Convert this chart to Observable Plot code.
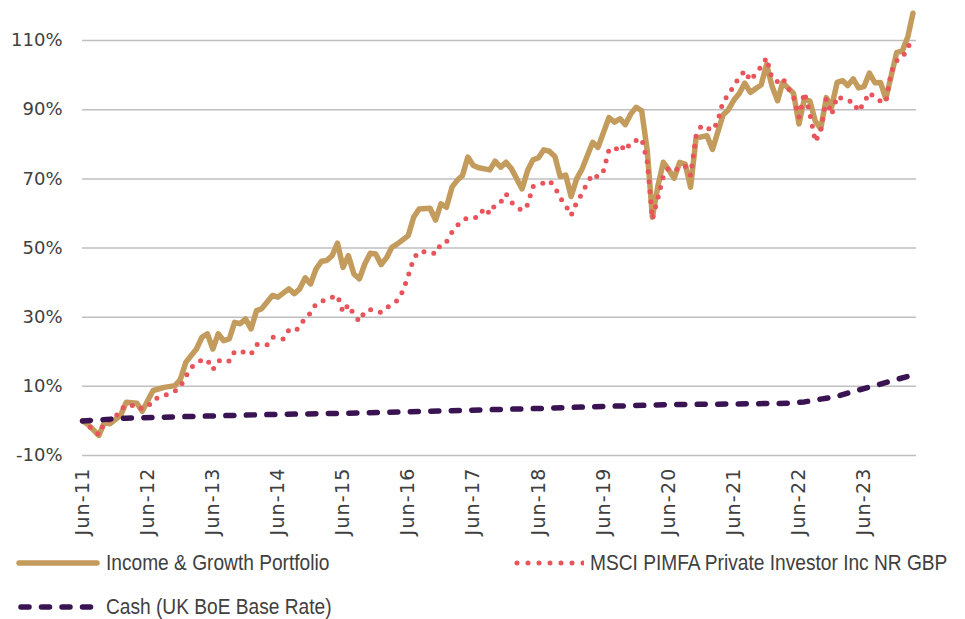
<!DOCTYPE html>
<html><head><meta charset="utf-8">
<script src="https://cdn.jsdelivr.net/npm/d3@7"></script>
<script src="https://cdn.jsdelivr.net/npm/@observablehq/plot@0.6"></script>
<style>
body{margin:0;background:#fff;}
#wrap{position:relative;width:965px;height:619px;overflow:hidden;background:#fff;}
.leg{position:absolute;display:flex;align-items:center;height:26px;font-family:"Liberation Sans",Arial,sans-serif;font-size:22px;color:#404040;white-space:nowrap;}
.leg svg{display:block;margin-right:6px;}
.leg span{display:inline-block;transform:scaleX(0.87);transform-origin:0 50%;}
</style></head><body><div id="wrap"></div>
<script>
// Month offsets counted from Jun-2011 (0 = Jun-11)
const seriesNames = ["Income & Growth Portfolio", "MSCI PIMFA Private Investor Inc NR GBP", "Cash (UK BoE Base Rate)"];
const seriesColors = ["#C39B5C", "#E8545A", "#3A1352"];

const portfolio = [[0,0],[1,-1.0],[3,-4.2],[4,-0.5],[5,-0.8],[7,1.6],[8,5.4],[10,5.1],[11,2.8],[12,5.9],[13,8.8],[15,9.7],[17,10.2],[18,12.0],[19,17.0],[21,20.8],[22,24.2],[23,25.2],[24,20.8],[25,25.2],[26,23.2],[27,23.7],[28,28.5],[29,28.1],[30,29.5],[31,26.6],[32,31.9],[33,32.4],[35,36.3],[36,35.8],[38,38.2],[39,36.8],[40,38.2],[41,41.4],[42,39.6],[43,44.0],[44,46.2],[45,46.4],[46,47.8],[47,51.4],[48,44.4],[49,47.8],[50,42.5],[51,41.1],[52,45.4],[53,48.5],[54,48.3],[55,45.2],[56,47.3],[57,50.2],[58,51.2],[60,53.6],[61,58.9],[62,61.3],[64,61.5],[65,58.1],[66,62.8],[67,61.8],[68,67.6],[69,69.5],[70,71.0],[71,76.3],[72,73.9],[73,73.2],[75,72.6],[76,75.1],[77,73.4],[78,74.8],[79,72.9],[81,67.1],[82,72.4],[83,75.5],[84,76.1],[85,78.4],[86,78.0],[87,76.5],[88,70.7],[89,71.1],[90,64.9],[91,70.0],[92,72.9],[94,80.6],[95,79.1],[97,87.7],[98,86.4],[99,87.4],[100,85.7],[101,88.8],[102,90.7],[103,89.7],[104,78.2],[105,58.9],[106,68.0],[107,74.8],[108,72.6],[109,70.2],[110,74.8],[111,74.3],[112,67.6],[113,81.8],[115,82.5],[116,78.5],[118,88.5],[119,90.0],[120,92.8],[121,94.7],[122,97.7],[123,95.0],[125,97.2],[126,103.1],[127,96.8],[128,92.6],[129,97.8],[131,94.8],[132,85.9],[133,93.1],[134,92.5],[135,86.6],[136,84.5],[137,93.5],[138,90.8],[139,97.9],[140,98.4],[141,97.0],[142,98.9],[143,96.3],[144,96.7],[145,100.6],[146,97.8],[147,97.9],[148,93.2],[149,100.0],[150,106.6],[151,106.9],[152,111.0],[153,117.9]];

const msci = [[0,0],[1,-1.3],[3,-4.0],[4,-0.4],[6,0.9],[7,3.5],[9,4.7],[10,3.5],[12,4.0],[13,6.2],[15,7.3],[17,8.6],[18,9.9],[19,12.9],[20,15.5],[22,17.7],[23,17.7],[24,14.8],[25,17.3],[26,17.8],[27,17.3],[28,20.1],[29,20.2],[31,19.3],[32,22.1],[34,22.0],[35,24.2],[37,23.7],[38,26.3],[39,25.9],[40,27.1],[41,30.0],[42,31.1],[43,33.9],[45,35.2],[47,36.3],[48,31.4],[49,33.6],[50,30.7],[51,28.8],[52,31.7],[53,32.2],[55,31.4],[57,33.9],[58,34.8],[59,37.5],[60,42.0],[61,47.0],[62,49.0],[64,48.8],[65,48.3],[66,51.2],[67,51.7],[68,54.6],[69,56.4],[70,58.0],[71,58.7],[73,58.9],[74,61.6],[75,59.9],[76,62.6],[77,63.2],[78,65.7],[79,63.2],[81,60.8],[82,62.5],[83,67.8],[85,68.8],[86,69.5],[87,67.6],[88,64.5],[89,62.3],[90,59.4],[91,63.2],[92,65.8],[93,68.7],[94,71.4],[95,70.5],[96,72.4],[97,78.3],[98,78.0],[99,80.0],[100,78.1],[101,80.6],[103,81.7],[104,75.0],[105,58.4],[106,64.5],[107,70.7],[108,73.3],[110,72.6],[111,73.7],[112,71.0],[113,82.5],[114,85.4],[116,84.0],[117,86.4],[118,92.4],[119,94.3],[120,97.0],[121,99.4],[122,101.3],[123,98.4],[124,100.4],[125,102.5],[126,105.0],[127,98.9],[128,98.1],[129,99.2],[130,96.3],[131,93.8],[132,87.8],[133,95.0],[134,88.9],[135,80.7],[136,84.0],[137,93.1],[138,88.6],[139,93.9],[141,92.5],[142,92.4],[143,89.5],[144,92.1],[145,95.0],[146,93.4],[147,92.5],[148,92.1],[149,101.0],[150,104.2],[151,105.0],[152,107.9],[153,111.0]];

const cash = [[0,0],[8,0.8],[20,1.3],[33,1.8],[51,2.3],[66,2.9],[84,3.6],[96,4.2],[108,4.7],[120,4.9],[130,5.1],[133,5.5],[136,6.3],[139,7.1],[142,8.5],[146,10.2],[150,12.0],[153,13.3]];

const tickMonths = [0,12,24,36,48,60,72,84,96,108,120,132,144];
const yTicks = [-10,10,30,50,70,90,110];

const toDate = m => new Date(2011, 5 + m, 1);
const xDomain = [toDate(0), new Date(2024, 2, 21)];

const lineOpts = (i, extra) => Object.assign({x: d => toDate(d[0]), y: d => d[1], stroke: seriesColors[i], strokeLinejoin: "round"}, extra);

const chart = Plot.plot({
  width: 965, height: 548,
  marginLeft: 82, marginRight: 49, marginTop: 5.5, marginBottom: 93,
  x: {type: "time", domain: xDomain},
  y: {domain: [-10, 120]},
  style: {fontFamily: "DejaVu Sans, sans-serif", fontSize: "18px", color: "#404040", background: "white", overflow: "visible"},
  marks: [
    Plot.gridY(yTicks, {stroke: "#bfbfbf", strokeOpacity: 1, strokeWidth: 1.5}),
    Plot.axisY(yTicks, {tickSize: 0, tickPadding: 20, tickFormat: d => d + "%", label: null, fontSize: 18}),
    Plot.axisX(tickMonths.map(toDate), {tickSize: 0, tickPadding: 12, tickRotate: -90, tickFormat: d3.timeFormat("%b-%y"), label: null, fontSize: 19}),
    Plot.line(portfolio, lineOpts(0, {strokeWidth: 5.5})),
    Plot.line(msci, lineOpts(1, {strokeWidth: 5, strokeDasharray: "0 10", strokeLinecap: "round"})),
    Plot.line(cash, lineOpts(2, {strokeWidth: 5.5, strokeDasharray: "8 12.5", strokeLinecap: "round"}))
  ]
});
const wrap = document.getElementById("wrap");
wrap.appendChild(chart);
// widen the rotated x tick labels a little
chart.querySelectorAll("g[aria-label='x-axis tick label'] text").forEach(t => t.setAttribute("letter-spacing", "1.2"));

// Legend (HTML, below the SVG)
const swatchDefs = [
  {w: 84, attrs: `stroke="${seriesColors[0]}" stroke-width="5.5" stroke-linecap="round"`, left: 16, top: 550, x1: 3, x2: 81},
  {w: 70, attrs: `stroke="${seriesColors[1]}" stroke-width="5" stroke-linecap="round" stroke-dasharray="0 11"`, left: 514, top: 550, x1: 3, x2: 70},
  {w: 84, attrs: `stroke="${seriesColors[2]}" stroke-width="5.5" stroke-linecap="round" stroke-dasharray="8 12.5"`, left: 16, top: 594, x1: 5, x2: 80}
];
seriesNames.forEach((name, i) => {
  const s = swatchDefs[i];
  const div = document.createElement("div");
  div.className = "leg";
  div.style.left = s.left + "px";
  div.style.top = s.top + "px";
  div.innerHTML = `<svg width="${s.w}" height="26"><line x1="${s.x1}" x2="${s.x2}" y1="13" y2="13" ${s.attrs}/></svg><span></span>`;
  div.querySelector("span").textContent = name;
  wrap.appendChild(div);
});
</script>
</body></html>
